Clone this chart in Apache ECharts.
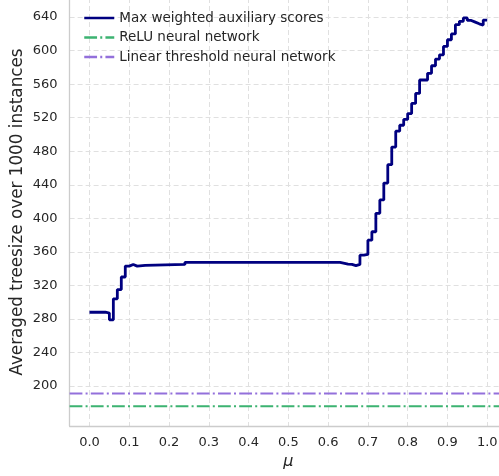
<!DOCTYPE html>
<html>
<head>
<meta charset="utf-8">
<script src="https://cdn.jsdelivr.net/npm/echarts@6/dist/echarts.min.js"></script>
<style>
html,body{margin:0;padding:0;background:#fff;}
#chart{width:499px;height:476px;}
</style>
</head>
<body>
<div id="chart"></div>
<script>
// step change points of the main curve (value holds until next point)
var muSteps = [0, 0.04, 0.05, 0.06, 0.07, 0.08, 0.09, 0.10, 0.11, 0.12, 0.14, 0.24, 0.63, 0.65, 0.66, 0.67, 0.68, 0.69, 0.70, 0.71, 0.72, 0.73, 0.74, 0.75, 0.76, 0.77, 0.78, 0.79, 0.80, 0.81, 0.82, 0.83, 0.85, 0.86, 0.87, 0.88, 0.89, 0.90, 0.91, 0.92, 0.93, 0.94, 0.95, 0.96, 0.97, 0.98, 0.99, 1.00];
var maxWeighted = [288, 287, 279, 304, 315, 330, 343, 345, 343, 344, 345, 347.5, 345.5, 345, 343.5, 345, 356, 357, 374, 384, 406, 422, 442, 464, 485, 504, 511, 518, 525, 537, 549, 565, 573, 582, 590, 595, 605, 613, 620, 631, 635, 639, 636, 634, 632, 630.5, 636.5, 636.5];
var reluValue = 176;
var linearThresholdValue = 191;
var xTicks = [0, 0.1, 0.2, 0.3, 0.4, 0.5, 0.6, 0.7, 0.8, 0.9, 1.0];
var yTicks = [200, 240, 280, 320, 360, 400, 440, 480, 520, 560, 600, 640];
var seriesNames = ['Max weighted auxiliary scores', 'ReLU neural network', 'Linear threshold neural network'];

var xMin = -0.05, xMax = 1.05;
var mainData = muSteps.map(function (m, i) { return [m, maxWeighted[i]]; });
var font = 'DejaVu Sans';
var gridLine = { show: true, lineStyle: { color: '#e0e0e0', type: [5, 3], width: 1 } };
var dashDot = [12.8, 3.2, 2, 3.2];

var chart = echarts.init(document.getElementById('chart'), null, { renderer: 'canvas' });
chart.setOption({
  backgroundColor: '#ffffff',
  animation: false,
  textStyle: { fontFamily: font },
  grid: { left: 69.6, width: 437.5, top: -2, bottom: 50, containLabel: false, outerBoundsMode: 'none' },
  legend: {
    orient: 'vertical',
    left: 78,
    top: 6,
    itemWidth: 30,
    itemHeight: 14,
    itemGap: 5.5,
    data: seriesNames,
    itemStyle: { opacity: 0 },
    lineStyle: { width: 2.5 },
    textStyle: { fontFamily: font, fontSize: 13.5, color: '#262626', padding: [0, 0, 0, 0] }
  },
  xAxis: {
    type: 'value',
    min: xMin,
    max: xMax,
    name: 'μ',
    nameLocation: 'middle',
    nameGap: 28,
    nameMoveOverlap: false,
    nameTextStyle: { fontFamily: font, fontSize: 16, fontStyle: 'italic', color: '#262626' },
    axisLine: { show: true, onZero: false, lineStyle: { color: '#cccccc', width: 1.3 } },
    axisTick: { show: false, customValues: xTicks },
    axisLabel: { customValues: xTicks, margin: 10, fontSize: 13, color: '#262626', fontFamily: font,
      formatter: function (v) { return v.toFixed(1); } },
    splitLine: gridLine
  },
  yAxis: {
    type: 'value',
    min: 152.3,
    max: 662.8,
    name: 'Averaged treesize over 1000 instances',
    nameLocation: 'middle',
    nameGap: 43,
    nameMoveOverlap: false,
    nameTextStyle: { fontFamily: font, fontSize: 16.8, color: '#262626' },
    axisLine: { show: true, onZero: false, lineStyle: { color: '#cccccc', width: 1.3 } },
    axisTick: { show: false, customValues: yTicks },
    axisLabel: { customValues: yTicks, margin: 12, fontSize: 13, color: '#262626', fontFamily: font },
    splitLine: gridLine
  },
  series: [
    {
      name: seriesNames[0],
      type: 'line',
      step: 'end',
      data: mainData,
      symbol: 'none',
      lineStyle: { color: '#000080', width: 2.8 },
      itemStyle: { color: '#000080' },
      z: 5
    },
    {
      name: seriesNames[1],
      type: 'line',
      data: [[xMin, reluValue], [xMax, reluValue]],
      symbol: 'none',
      lineStyle: { color: '#3cb371', width: 2, type: dashDot },
      itemStyle: { color: '#3cb371' }
    },
    {
      name: seriesNames[2],
      type: 'line',
      data: [[xMin, linearThresholdValue], [xMax, linearThresholdValue]],
      symbol: 'none',
      lineStyle: { color: '#9370db', width: 2, type: dashDot },
      itemStyle: { color: '#9370db' }
    }
  ]
});
</script>
</body>
</html>
